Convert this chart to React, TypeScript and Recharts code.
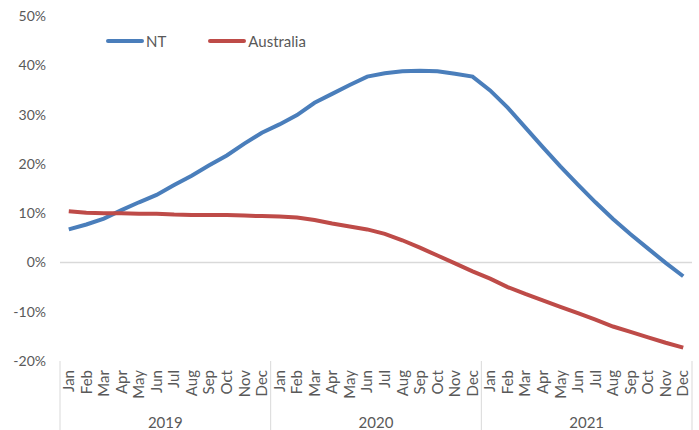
import React from 'react';
import { LineChart, Line, XAxis, YAxis, ReferenceLine } from 'recharts';

const months = ['Jan', 'Feb', 'Mar', 'Apr', 'May', 'Jun', 'Jul', 'Aug', 'Sep', 'Oct', 'Nov', 'Dec'];
const years = ['2019', '2020', '2021'];

const ntValues = [
  6.7, 7.7, 8.9, 10.6, 12.2, 13.7, 15.7, 17.6, 19.7, 21.7, 24.1, 26.3,
  28.0, 29.9, 32.4, 34.2, 36.0, 37.7, 38.4, 38.8, 38.9, 38.8, 38.3, 37.7,
  34.9, 31.4, 27.4, 23.4, 19.5, 15.8, 12.2, 8.8, 5.7, 2.8, -0.1, -2.8,
];
const australiaValues = [
  10.4, 10.1, 10.0, 10.0, 9.9, 9.9, 9.7, 9.6, 9.6, 9.6, 9.5, 9.4,
  9.3, 9.1, 8.6, 7.9, 7.3, 6.7, 5.8, 4.5, 3.0, 1.4, -0.2, -1.8,
  -3.3, -5.0, -6.4, -7.7, -9.0, -10.3, -11.6, -13.0, -14.1, -15.2, -16.3, -17.3,
];
const yTicks = [-20, -10, 0, 10, 20, 30, 40, 50];

const chartData = ntValues.map((nt, i) => ({
  key: `${years[Math.floor(i / 12)]}-${months[i % 12]}`,
  month: months[i % 12],
  year: years[Math.floor(i / 12)],
  nt,
  australia: australiaValues[i],
}));

const WIDTH = 699;
const HEIGHT = 430;
const X_AXIS_HEIGHT = 69;
const MARGIN = { top: 16, right: 7, left: 0, bottom: 0 };
const Y_AXIS_WIDTH = 60;
const PLOT_BOTTOM = HEIGHT - X_AXIS_HEIGHT;
const FONT = 'Lato, "Open Sans", sans-serif';
const TEXT_COLOR = '#595959';
const SEP_COLOR = '#d9d9d9';
const NT_COLOR = '#4a7ebb';
const AUS_COLOR = '#be4b48';
// width of one month slot, so the line points sit in the middle of each slot like Excel
const BAND = (WIDTH - MARGIN.right - Y_AXIS_WIDTH) / chartData.length;

const MonthTick = (props: any) => {
  const { x, index } = props;
  const item = chartData[index];
  return (
    <g>
      <text
        x={0}
        y={0}
        dy="0.35em"
        textAnchor="end"
        fontSize={15}
        fontFamily={FONT}
        fill={TEXT_COLOR}
        transform={`translate(${x},${PLOT_BOTTOM + 9}) rotate(-90)`}
      >
        {item.month}
      </text>
      {index % 12 === 0 && (
        <line x1={x - BAND / 2} x2={x - BAND / 2} y1={PLOT_BOTTOM} y2={HEIGHT} stroke={SEP_COLOR} />
      )}
      {index === chartData.length - 1 && (
        <line x1={x + BAND / 2} x2={x + BAND / 2} y1={PLOT_BOTTOM} y2={HEIGHT} stroke={SEP_COLOR} />
      )}
      {index % 12 === 5 && (
        <text
          x={x + BAND / 2}
          y={PLOT_BOTTOM + 62}
          dy="0.35em"
          textAnchor="middle"
          fontSize={15}
          fontFamily={FONT}
          fill={TEXT_COLOR}
        >
          {item.year}
        </text>
      )}
    </g>
  );
};

const legendItems = [
  { name: 'NT', color: NT_COLOR, gap: 42 },
  { name: 'Australia', color: AUS_COLOR, gap: 0 },
];

const ChartLegend = () => (
  <div
    style={{
      position: 'absolute',
      top: 32,
      left: 106,
      display: 'flex',
      alignItems: 'center',
      fontFamily: FONT,
      fontSize: 15,
      color: TEXT_COLOR,
      lineHeight: '18px',
    }}
  >
    {legendItems.map(item => (
      <div key={item.name} style={{ display: 'flex', alignItems: 'center', marginRight: item.gap }}>
        <span style={{ display: 'inline-block', width: 38, height: 4, borderRadius: 2, background: item.color, marginRight: 2 }} />
        <span>{item.name}</span>
      </div>
    ))}
  </div>
);

export default function App() {
  return (
    <div style={{ position: 'absolute', left: 0, top: 0, width: WIDTH, height: HEIGHT, background: '#fff' }}>
      <LineChart width={WIDTH} height={HEIGHT} data={chartData} margin={MARGIN}>
        <XAxis
          dataKey="key"
          interval={0}
          height={X_AXIS_HEIGHT}
          padding={{ left: BAND / 2, right: BAND / 2 }}
          axisLine={false}
          tickLine={false}
          tick={<MonthTick />}
        />
        <YAxis
          width={Y_AXIS_WIDTH}
          domain={[-20, 50]}
          ticks={yTicks}
          axisLine={false}
          tickLine={false}
          tickMargin={8}
          tickFormatter={(v: number) => `${v}%`}
          tick={{ fontSize: 14, fontFamily: FONT, fill: TEXT_COLOR }}
        />
        <ReferenceLine y={0} stroke={SEP_COLOR} strokeWidth={1.5} />
        <Line
          type="linear"
          dataKey="nt"
          name="NT"
          stroke={NT_COLOR}
          strokeWidth={4}
          dot={false}
          isAnimationActive={false}
        />
        <Line
          type="linear"
          dataKey="australia"
          name="Australia"
          stroke={AUS_COLOR}
          strokeWidth={4}
          dot={false}
          isAnimationActive={false}
        />
      </LineChart>
      <ChartLegend />
    </div>
  );
}
